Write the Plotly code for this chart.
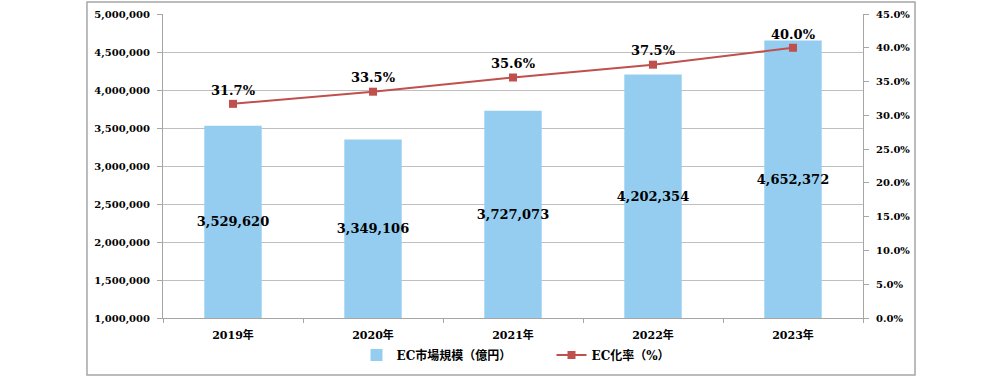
import plotly.graph_objects as go

years = ["2019年", "2020年", "2021年", "2022年", "2023年"]
ec_market = [3529620, 3349106, 3727073, 4202354, 4652372]
ec_rate = [0.317, 0.335, 0.356, 0.375, 0.400]
bar_name = "EC市場規模（億円）"
line_name = "EC化率（%）"

FONT = "DejaVu Serif, Noto Sans CJK JP, serif"

fig = go.Figure()
fig.add_trace(go.Bar(
    x=years, y=[v - 1000000 for v in ec_market], base=1000000,
    name=bar_name,
    marker=dict(color="#95CDF0", line=dict(width=0)),
    text=[f"{v:,}" for v in ec_market],
    textposition="inside", insidetextanchor="middle", textangle=0,
    constraintext="none",
    textfont=dict(family=FONT, size=13, color="#000000", weight="bold"),
    yaxis="y",
))
fig.add_trace(go.Scatter(
    x=years, y=ec_rate, name=line_name, yaxis="y2",
    mode="lines+markers+text",
    line=dict(color="#C0504D", width=2),
    marker=dict(symbol="square", size=8, color="#C0504D"),
    text=[f"{v*100:.1f}%" for v in ec_rate],
    textposition="top center",
    textfont=dict(family=FONT, size=13, color="#000000", weight="bold"),
))

tickfont = dict(family=FONT, size=10, color="#000000", weight="bold")

fig.update_layout(
    width=1000, height=378,
    margin=dict(l=163, r=137, t=14, b=60, autoexpand=False),
    paper_bgcolor="white", plot_bgcolor="white",
    font=dict(family=FONT, size=11, color="#000000"),
    bargap=0.59,
    showlegend=True,
    legend=dict(orientation="h", x=0.555, xanchor="center", y=-0.122, yanchor="middle",
                font=dict(family=FONT, size=12, weight="bold"), traceorder="normal",
                itemwidth=30, entrywidth=150, bgcolor="rgba(0,0,0,0)"),
    xaxis=dict(showgrid=False, showline=True, linecolor="#A6A6A6", linewidth=1,
               ticks="outside", tickson="boundaries", ticklen=4, tickcolor="#A6A6A6",
               tickfont=dict(family=FONT, size=11, color="#000000", weight="bold"),
               ticklabelstandoff=7, automargin=False),
    yaxis=dict(range=[1000000, 5000000], dtick=500000, tickformat=",",
               showgrid=True, gridcolor="#BFBFBF", gridwidth=1,
               showline=True, linecolor="#A6A6A6", ticks="outside", ticklen=5,
               tickcolor="#A6A6A6", tickfont=tickfont, zeroline=False, automargin=False,
               ticklabelstandoff=5),
    yaxis2=dict(range=[0, 0.45], dtick=0.05, tickformat=".1%", overlaying="y", side="right",
                showgrid=False, showline=True, linecolor="#A6A6A6", ticks="outside",
                ticklen=5, tickcolor="#A6A6A6", tickfont=tickfont,
                zeroline=False, automargin=False, ticklabelstandoff=5),
    shapes=[dict(type="rect", xref="paper", yref="paper",
                 x0=-0.1086, x1=1.0743, y0=-0.1875, y1=1.0395,
                 line=dict(color="#A6A6A6", width=1.5), fillcolor="rgba(0,0,0,0)")],
)

fig.write_html("out.html", config={"displayModeBar": False},
               post_script="document.body.style.margin='0';document.body.style.overflow='hidden';")
